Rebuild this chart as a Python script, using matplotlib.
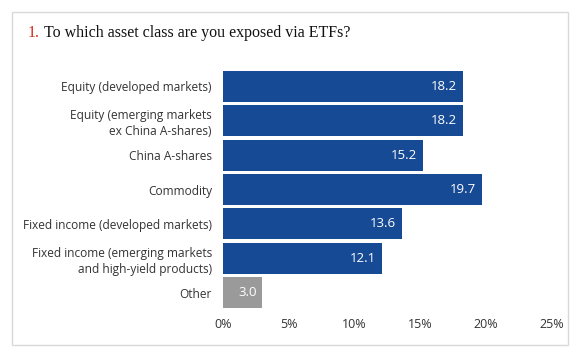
import matplotlib.pyplot as plt
from matplotlib.patches import Rectangle

categories = ["Equity (developed markets)",
              "Equity (emerging markets\nex China A-shares)",
              "China A-shares",
              "Commodity",
              "Fixed income (developed markets)",
              "Fixed income (emerging markets\nand high-yield products)",
              "Other"]
values = [18.2, 18.2, 15.2, 19.7, 13.6, 12.1, 3.0]
tick_vals = [0, 5, 10, 15, 20, 25]

blue = "#174a95"
grey = "#9a9a9a"
colors = [blue] * 6 + [grey]

plt.rcParams['font.family'] = ['Open Sans', 'DejaVu Sans']

fig = plt.figure(figsize=(5.8, 3.58), dpi=100)
fig.patches.append(Rectangle((12 / 580, 1 - 345 / 358), 556 / 580, 333 / 358,
                             transform=fig.transFigure, fill=False,
                             edgecolor="#d9d9d9", linewidth=1))

ax = fig.add_axes([223 / 580, 1 - 310 / 358, 329 / 580, 241 / 358])
y = list(range(len(values)))
ax.barh(y, values, height=0.9, color=colors)
ax.set_ylim(len(values) - 0.5, -0.5)
ax.set_xlim(0, 25)

for yi, v in zip(y, values):
    ax.text(v - 0.45, yi, "%.1f" % v, color="white", va="center", ha="right",
            fontsize=9.5)

ax.set_yticks(y)
ax.set_yticklabels(categories, fontsize=8.6, color="#333333", linespacing=1.3)
ax.set_xticks(tick_vals)
ax.set_xticklabels(["%d%%" % t for t in tick_vals], fontsize=9, color="#333333")
ax.tick_params(length=0, pad=6)
ax.tick_params(axis='y', pad=8)
for s in ax.spines.values():
    s.set_visible(False)
ax.axhline(len(values) - 0.5, color="#eeeeee", linewidth=0.8, zorder=0)

fig.text(28 / 580, 1 - 33 / 358, "1.", color="#d62a1e", fontsize=11.5,
         family="Liberation Serif", va="center")
fig.text(44 / 580, 1 - 33 / 358, "To which asset class are you exposed via ETFs?",
         color="#111111", fontsize=11.5, family="Liberation Serif", va="center")

fig.savefig("out.png")
